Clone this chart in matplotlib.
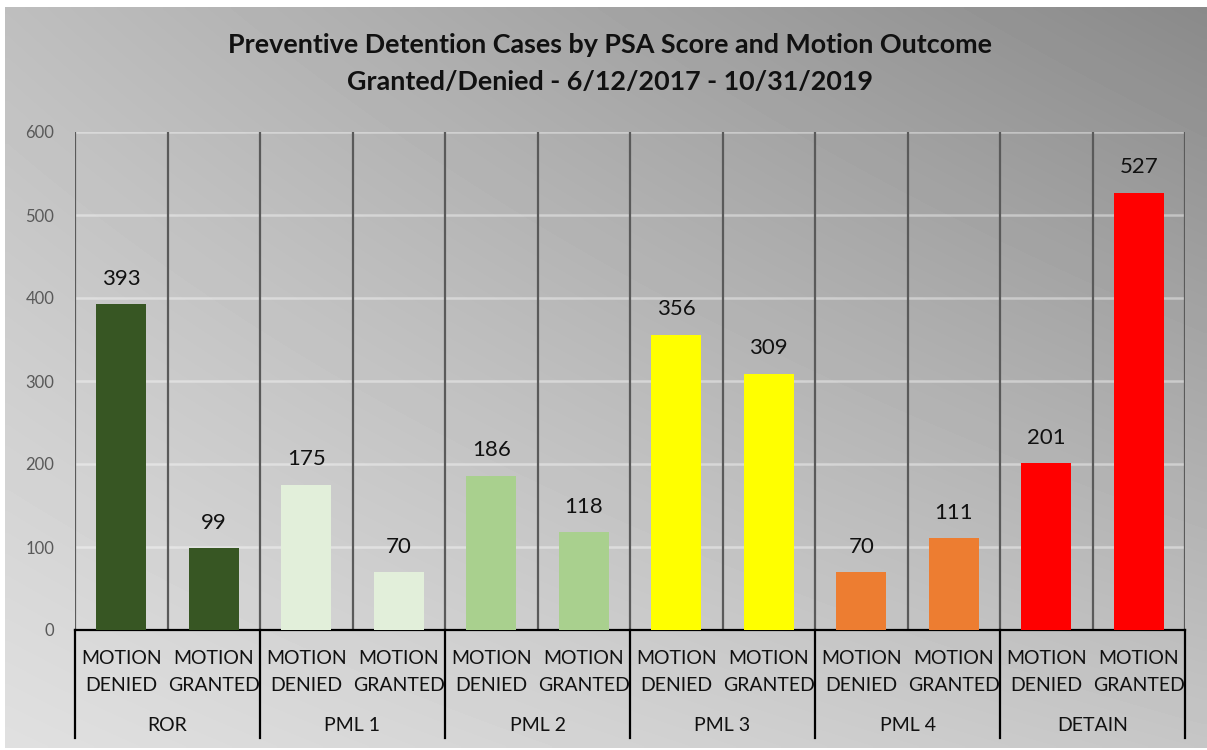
import matplotlib
matplotlib.use('Agg')
import matplotlib.pyplot as plt
import numpy as np
from matplotlib.transforms import blended_transform_factory

groups = ['ROR', 'PML 1', 'PML 2', 'PML 3', 'PML 4', 'DETAIN']
outcomes = ['MOTION\nDENIED', 'MOTION\nGRANTED']
denied = [393, 175, 186, 356, 70, 201]
granted = [99, 70, 118, 309, 111, 527]
colors = ['#375623', '#E2EFDA', '#A9D08E', '#FFFF00', '#ED7D31', '#FF0000']
yticks = [0, 100, 200, 300, 400, 500, 600]
title1 = 'Preventive Detention Cases by PSA Score and Motion Outcome'
title2 = 'Granted/Denied - 6/12/2017 - 10/31/2019'

plt.rcParams['font.family'] = ['Lato', 'DejaVu Sans']
W, H = 1207, 750
fig = plt.figure(figsize=(W / 100, H / 100), dpi=100)
fig.patch.set_facecolor('white')

# gradient background
bg = fig.add_axes([5 / W, 2 / H, 1202 / W, 741 / H])
n = 200
u = np.linspace(0, 1, n)
X, Y = np.meshgrid(u, u)
bl, br, tl, tr = 224, 198, 190, 138
grad = bl * (1 - X) * (1 - Y) + br * X * (1 - Y) + tl * (1 - X) * Y + tr * X * Y
bg.imshow(grad, cmap='gray', vmin=0, vmax=255, origin='lower',
          extent=[0, 1, 0, 1], aspect='auto', interpolation='bilinear')
bg.axis('off')

ax = fig.add_axes([75 / W, 120 / H, 1110 / W, 498 / H])
ax.set_facecolor('none')
ax.set_xlim(0, 12)
ax.set_ylim(0, 600)

values = []
bar_colors = []
for d, g, c in zip(denied, granted, colors):
    values += [d, g]
    bar_colors += [c, c]
xs = np.arange(len(values)) + 0.5

for yv in yticks[1:]:
    ax.axhline(yv, color='white', alpha=0.4, lw=1.8, zorder=1)
for i in range(13):
    ax.axvline(i, color='#5a5a5a', lw=1.6, zorder=2)

ax.bar(xs, values, width=0.54, color=bar_colors, zorder=3)
for x, v in zip(xs, values):
    ax.annotate(str(v), (x, v), xytext=(0, 11), textcoords='offset points',
                ha='center', va='bottom', fontsize=16, color='#111111')

ax.set_yticks(yticks)
ax.set_yticklabels([str(t) for t in yticks], fontsize=12, color='#595959')
ax.tick_params(axis='y', length=0, pad=15)
ax.set_xticks([])
for s in ['left', 'right', 'top']:
    ax.spines[s].set_visible(False)
ax.spines['bottom'].set_color('black')
ax.spines['bottom'].set_linewidth(1.6)

trans = blended_transform_factory(ax.transData, ax.transAxes)
for i, x in enumerate(xs):
    ax.text(x, -0.084, outcomes[i % 2], transform=trans, ha='center', va='center',
            fontsize=14, linespacing=1.75, color='#111111')
for gi, gname in enumerate(groups):
    ax.text(2 * gi + 1, -0.192, gname, transform=trans, ha='center', va='center',
            fontsize=14, color='#111111')
for b in range(0, 13, 2):
    ax.plot([b, b], [0, -0.217], transform=trans, color='black', lw=1.6, clip_on=False)

fig.text(610 / W, 1 - 45 / H, title1, ha='center', va='center', fontsize=19.4,
         fontweight='bold', color='#111111')
fig.text(610 / W, 1 - 82 / H, title2, ha='center', va='center', fontsize=19.4,
         fontweight='bold', color='#111111')

fig.savefig('out.png', dpi=100)
